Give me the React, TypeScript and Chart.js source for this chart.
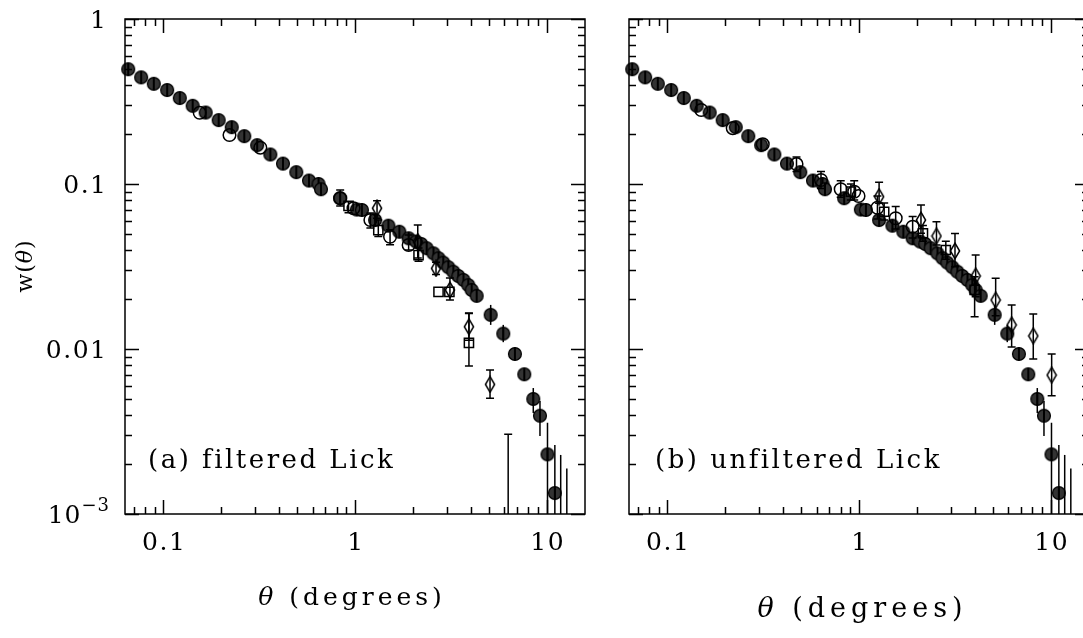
import React, { useEffect, useRef } from "react";
import { Chart, registerables } from "chart.js";
Chart.register(...registerables);

// ---------- axis ranges & tick labels ----------
const X_MIN = 0.063;
const X_MAX = 15.8;
const Y_MIN = 0.001;
const Y_MAX = 1;
const xTickValues = [0.1, 1, 10];
const xTickLabels = ["0.1", "1", "10"];
const yTickValues = [1, 0.1, 0.01, 0.001];
const yTickLabels = ["1", "0.1", "0.01", "10|-3"];

// ---------- APM (filled circles, both panels) ----------
const apmTheta = [0.0655, 0.0765, 0.089, 0.1045, 0.1216, 0.142, 0.166, 0.194, 0.227, 0.264, 0.308, 0.361, 0.42, 0.493, 0.574, 0.644, 0.663, 0.835, 1.02, 1.084, 1.27, 1.49, 1.7, 1.9, 2.08, 2.21, 2.36, 2.56, 2.72, 2.88, 3.06, 3.25, 3.45, 3.67, 3.89, 4.05, 4.3, 5.09, 5.92, 6.81, 7.62, 8.49, 9.2, 10.07, 11.0];
const apmW = [0.496, 0.443, 0.405, 0.371, 0.332, 0.298, 0.271, 0.244, 0.221, 0.195, 0.172, 0.151, 0.133, 0.118, 0.105, 0.1, 0.093, 0.082, 0.07, 0.0696, 0.0605, 0.0559, 0.0514, 0.0469, 0.0448, 0.0433, 0.0408, 0.038, 0.0355, 0.0334, 0.0313, 0.0294, 0.0277, 0.0262, 0.0244, 0.0228, 0.021, 0.0161, 0.0124, 0.00933, 0.00703, 0.00498, 0.00394, 0.0023, 0.00134];
const apmHi = [null, null, null, null, null, null, null, null, null, null, null, null, null, null, null, null, null, null, null, null, null, null, null, null, null, null, null, null, null, null, null, null, null, null, null, null, null, 0.0185, 0.014, null, null, 0.0058, 0.00484, 0.00357, 0.00262];
const apmLo = [null, null, null, null, null, null, null, null, null, null, null, null, null, null, null, null, null, null, null, null, null, null, null, null, null, null, null, null, null, null, null, null, null, null, null, null, null, 0.014, 0.011, null, null, 0.00409, 0.00297, 0.0001, 0.0001];
const apmLimitTheta = [11.8, 12.7];
const apmLimitTop = [0.00228, 0.00189];

// ---------- (a) filtered Lick ----------
const aCircTheta = [0.1545, 0.221, 0.32, 0.835, 0.98, 1.2, 1.52, 1.9];
const aCircW = [0.27, 0.198, 0.166, 0.082, 0.0713, 0.0605, 0.0479, 0.0427];
const aCircHi = [null, null, null, 0.092, null, 0.0667, 0.0528, 0.0491];
const aCircLo = [null, null, null, 0.0736, null, 0.0541, 0.0428, 0.0398];

const aSqTheta = [0.923, 1.32, 2.14, 2.72, 3.1, 3.92];
const aSqW = [0.0736, 0.0526, 0.0371, 0.0222, 0.0222, 0.0109];
const aSqHi = [0.0781, 0.0606, 0.041, null, null, 0.0165];
const aSqLo = [0.067, 0.0481, 0.034, null, null, 0.00789];

const aDiaTheta = [1.3, 2.12, 2.64, 3.12, 3.92, 5.05];
const aDiaW = [0.0713, 0.0447, 0.0308, 0.0228, 0.01365, 0.0061];
const aDiaHi = [0.0792, 0.0565, 0.0335, 0.0269, 0.0164, 0.00746];
const aDiaLo = [0.062, 0.0356, 0.0283, 0.0198, 0.0113, 0.00503];
const aDiaLimitTheta = [6.28];
const aDiaLimitTop = [0.00304];

// ---------- (b) unfiltered Lick ----------
const bCircTheta = [0.15, 0.219, 0.314, 0.471, 0.632, 0.801, 0.942, 0.992, 1.245, 1.55, 1.9];
const bCircW = [0.281, 0.218, 0.174, 0.132, 0.1057, 0.0929, 0.0898, 0.0846, 0.0718, 0.062, 0.0551];
const bCircHi = [null, null, null, 0.146, 0.119, 0.1047, 0.1047, null, 0.0846, 0.0731, 0.0635];
const bCircLo = [null, null, null, 0.119, 0.094, 0.083, 0.08, null, 0.0614, 0.0533, 0.047];

const bSqTheta = [0.905, 1.35, 2.15, 2.83, 4.0];
const bSqW = [0.0898, 0.0679, 0.0503, 0.0398, 0.0228];
const bSqHi = [0.1, 0.0766, 0.056, 0.045, 0.0274];
const bSqLo = [0.08, 0.0606, 0.045, 0.035, 0.0157];

const bDiaTheta = [1.27, 2.1, 2.53, 3.16, 4.05, 5.15, 6.24, 8.09, 10.09];
const bDiaW = [0.0838, 0.0605, 0.0484, 0.0393, 0.0277, 0.0198, 0.014, 0.012, 0.00695];
const bDiaHi = [0.1023, 0.0746, 0.0591, 0.0501, 0.0371, 0.0268, 0.0185, 0.0163, 0.00933];
const bDiaLo = [0.0764, 0.0503, 0.0427, 0.0315, 0.0207, 0.0159, 0.0103, 0.00869, 0.00521];

const SERIF = "'DejaVu Serif'";

type Run = { t: string; font: string; dy?: number };

function drawRuns(ctx: CanvasRenderingContext2D, runs: Run[], x: number, y: number, align: string, ls: number) {
  (ctx as any).letterSpacing = ls + "px";
  let total = 0;
  const widths = runs.map((r) => {
    ctx.font = r.font;
    const w = ctx.measureText(r.t).width;
    total += w;
    return w;
  });
  total -= ls;
  let cx = align === "center" ? x - total / 2 : align === "right" ? x - total : x;
  ctx.textAlign = "left";
  runs.forEach((r, i) => {
    ctx.font = r.font;
    ctx.fillText(r.t, cx, y + (r.dy || 0));
    cx += widths[i];
  });
  (ctx as any).letterSpacing = "0px";
}

function makeMarkers() {
  const filled = document.createElement("canvas");
  filled.width = 16;
  filled.height = 16;
  let c = filled.getContext("2d")!;
  c.beginPath();
  c.arc(8, 8, 6.4, 0, Math.PI * 2);
  c.fillStyle = "#333";
  c.fill();
  c.lineWidth = 1.3;
  c.strokeStyle = "#000";
  c.stroke();
  c.beginPath();
  c.moveTo(8, 1.5);
  c.lineTo(8, 14.5);
  c.lineWidth = 2;
  c.stroke();

  const dia = document.createElement("canvas");
  dia.width = 12;
  dia.height = 18;
  c = dia.getContext("2d")!;
  c.beginPath();
  c.moveTo(6, 1.2);
  c.lineTo(10.6, 9);
  c.lineTo(6, 16.8);
  c.lineTo(1.4, 9);
  c.closePath();
  c.lineWidth = 1.5;
  c.strokeStyle = "#000";
  c.stroke();
  return { filled, dia };
}

type Series = { theta: number[]; w: number[]; hi: (number | null)[]; lo: (number | null)[]; kind: string; caps: boolean };
type Limit = { theta: number[]; top: number[]; caps: boolean };

type PanelCfg = {
  left: number;
  width: number;
  padding: { left: number; right: number; top: number; bottom: number };
  series: Series[];
  limits: Limit[];
  label: string;
  labelX: number;
  yLabels: boolean;
  titleX: number;
  titleY: number;
  titleSize: number;
  titleLs: number;
};

function Panel({ cfg }: { cfg: PanelCfg }) {
  const ref = useRef<HTMLCanvasElement | null>(null);
  useEffect(() => {
    const m = makeMarkers();
    const datasets = cfg.series.map((s) => {
      const base: any = {
        data: s.theta.map((t, i) => ({ x: t, y: s.w[i] })),
        errHi: s.hi,
        errLo: s.lo,
        caps: s.caps,
        clip: false,
        borderColor: "#000",
        backgroundColor: "rgba(0,0,0,0)",
        borderWidth: 1.5,
        pointRadius: 6.3,
      };
      if (s.kind === "filled") base.pointStyle = m.filled;
      else if (s.kind === "diamond") base.pointStyle = m.dia;
      else if (s.kind === "square") {
        base.pointStyle = "rect";
        base.pointRadius = 6.5;
      } else base.pointStyle = "circle";
      return base;
    });

    const decor = {
      id: "decor",
      afterDatasetsDraw(chart: any) {
        const { ctx, chartArea: a } = chart;
        const x = chart.scales.x;
        const y = chart.scales.y;
        ctx.save();
        ctx.beginPath();
        ctx.rect(a.left, a.top, a.right - a.left, a.bottom - a.top);
        ctx.clip();
        ctx.strokeStyle = "#000";
        ctx.lineWidth = 1.5;
        const bar = (t: number, hi: number, lo: number, caps: boolean) => {
          const px = x.getPixelForValue(t);
          const yh = y.getPixelForValue(hi);
          const yl = y.getPixelForValue(lo);
          ctx.beginPath();
          ctx.moveTo(px, yh);
          ctx.lineTo(px, yl);
          if (caps) {
            ctx.moveTo(px - 4, yh);
            ctx.lineTo(px + 4, yh);
            if (lo > Y_MIN) {
              ctx.moveTo(px - 4, yl);
              ctx.lineTo(px + 4, yl);
            }
          }
          ctx.stroke();
        };
        chart.data.datasets.forEach((ds: any) => {
          ds.data.forEach((p: any, i: number) => {
            const hi = ds.errHi[i];
            const lo = ds.errLo[i];
            if (hi == null || lo == null) return;
            bar(p.x, hi, lo, ds.caps);
          });
        });
        cfg.limits.forEach((l) => {
          l.theta.forEach((t, i) => bar(t, l.top[i], 0.0001, l.caps));
        });
        ctx.restore();
      },
      afterDraw(chart: any) {
        const { ctx, chartArea: a } = chart;
        const x = chart.scales.x;
        const y = chart.scales.y;
        ctx.save();
        ctx.strokeStyle = "#000";
        ctx.fillStyle = "#000";
        ctx.lineWidth = 1.5;
        ctx.strokeRect(a.left, a.top, a.right - a.left, a.bottom - a.top);
        const MAJ = 14;
        const MIN = 7;
        ctx.beginPath();
        for (let d = -2; d <= 1; d++) {
          for (let mnt = 1; mnt <= 9; mnt++) {
            const v = mnt * Math.pow(10, d);
            if (v < X_MIN || v > X_MAX) continue;
            const len = mnt === 1 ? MAJ : MIN;
            const px = Math.round(x.getPixelForValue(v)) + 0.5;
            ctx.moveTo(px, a.bottom);
            ctx.lineTo(px, a.bottom - len);
            ctx.moveTo(px, a.top);
            ctx.lineTo(px, a.top + len);
          }
        }
        for (let d = -3; d <= 0; d++) {
          for (let mnt = 1; mnt <= 9; mnt++) {
            const v = mnt * Math.pow(10, d);
            if (v < Y_MIN * 0.999 || v > Y_MAX * 1.001) continue;
            const len = mnt === 1 ? MAJ : MIN;
            const py = Math.round(y.getPixelForValue(v)) + 0.5;
            ctx.moveTo(a.left, py);
            ctx.lineTo(a.left + len, py);
            ctx.moveTo(a.right, py);
            ctx.lineTo(a.right - len, py);
          }
        }
        ctx.stroke();

        ctx.textBaseline = "alphabetic";
        const fT = `25px ${SERIF}`;
        xTickValues.forEach((v, i) => {
          drawRuns(ctx, [{ t: xTickLabels[i], font: fT }], x.getPixelForValue(v), 550, "center", 1.5);
        });
        if (cfg.yLabels) {
          yTickValues.forEach((v, i) => {
            const py = y.getPixelForValue(v);
            const lab = yTickLabels[i];
            if (lab.includes("|")) {
              const [b, e] = lab.split("|");
              drawRuns(
                ctx,
                [
                  { t: b, font: fT },
                  { t: e.replace("-", "\u2212"), font: `18px ${SERIF}`, dy: -12 },
                ],
                109,
                py + 9,
                "right",
                1
              );
            } else {
              drawRuns(ctx, [{ t: lab, font: fT }], 106, py + 9, "right", 1.5);
            }
          });
          ctx.save();
          ctx.translate(32, (a.top + a.bottom) / 2);
          ctx.rotate(-Math.PI / 2);
          drawRuns(
            ctx,
            [
              { t: "w(", font: `22px ${SERIF}` },
              { t: "\u03b8", font: `italic 22px ${SERIF}` },
              { t: ")", font: `22px ${SERIF}` },
            ],
            0,
            0,
            "center",
            1
          );
          ctx.restore();
        }
        drawRuns(ctx, [{ t: cfg.label, font: `26px ${SERIF}` }], cfg.labelX, 468, "left", 2.5);
        drawRuns(
          ctx,
          [
            { t: "\u03b8", font: `italic ${cfg.titleSize}px ${SERIF}` },
            { t: " (degrees)", font: `${cfg.titleSize}px ${SERIF}` },
          ],
          cfg.titleX,
          cfg.titleY,
          "center",
          cfg.titleLs
        );
        ctx.restore();
      },
    };

    const chart = new Chart(ref.current!, {
      type: "scatter",
      data: { datasets },
      options: {
        animation: false,
        responsive: false,
        events: [],
        layout: { padding: cfg.padding },
        plugins: { legend: { display: false }, tooltip: { enabled: false } },
        scales: {
          x: { type: "logarithmic", min: X_MIN, max: X_MAX, display: false },
          y: { type: "logarithmic", min: Y_MIN, max: Y_MAX, display: false },
        },
      },
      plugins: [decor],
    } as any);
    return () => chart.destroy();
  }, [cfg]);
  return (
    <canvas
      ref={ref}
      width={cfg.width}
      height={638}
      style={{ position: "absolute", left: cfg.left, top: 0, width: cfg.width, height: 638 }}
    />
  );
}

const apmSeries: Series = { theta: apmTheta, w: apmW, hi: apmHi, lo: apmLo, kind: "filled", caps: false };
const apmLimits: Limit = { theta: apmLimitTheta, top: apmLimitTop, caps: false };

const leftCfg: PanelCfg = {
  left: 0,
  width: 600,
  padding: { left: 125, right: 15, top: 19, bottom: 124 },
  series: [
    { theta: aCircTheta, w: aCircW, hi: aCircHi, lo: aCircLo, kind: "circle", caps: true },
    { theta: aSqTheta, w: aSqW, hi: aSqHi, lo: aSqLo, kind: "square", caps: true },
    { theta: aDiaTheta, w: aDiaW, hi: aDiaHi, lo: aDiaLo, kind: "diamond", caps: true },
    apmSeries,
  ],
  limits: [apmLimits, { theta: aDiaLimitTheta, top: aDiaLimitTop, caps: true }],
  label: "(a) filtered Lick",
  labelX: 148,
  yLabels: true,
  titleX: 350,
  titleY: 605,
  titleSize: 25,
  titleLs: 4,
};

const rightCfg: PanelCfg = {
  left: 600,
  width: 500,
  padding: { left: 29, right: 11, top: 19, bottom: 124 },
  series: [
    { theta: bCircTheta, w: bCircW, hi: bCircHi, lo: bCircLo, kind: "circle", caps: true },
    { theta: bSqTheta, w: bSqW, hi: bSqHi, lo: bSqLo, kind: "square", caps: true },
    { theta: bDiaTheta, w: bDiaW, hi: bDiaHi, lo: bDiaLo, kind: "diamond", caps: true },
    apmSeries,
  ],
  limits: [apmLimits],
  label: "(b) unfiltered Lick",
  labelX: 55,
  yLabels: false,
  titleX: 260,
  titleY: 617,
  titleSize: 27,
  titleLs: 5,
};

export default function App() {
  return (
    <div
      style={{
        position: "fixed",
        left: 0,
        top: 0,
        width: 1083,
        height: 638,
        overflow: "hidden",
        background: "#fff",
      }}
    >
      <Panel cfg={leftCfg} />
      <Panel cfg={rightCfg} />
    </div>
  );
}
